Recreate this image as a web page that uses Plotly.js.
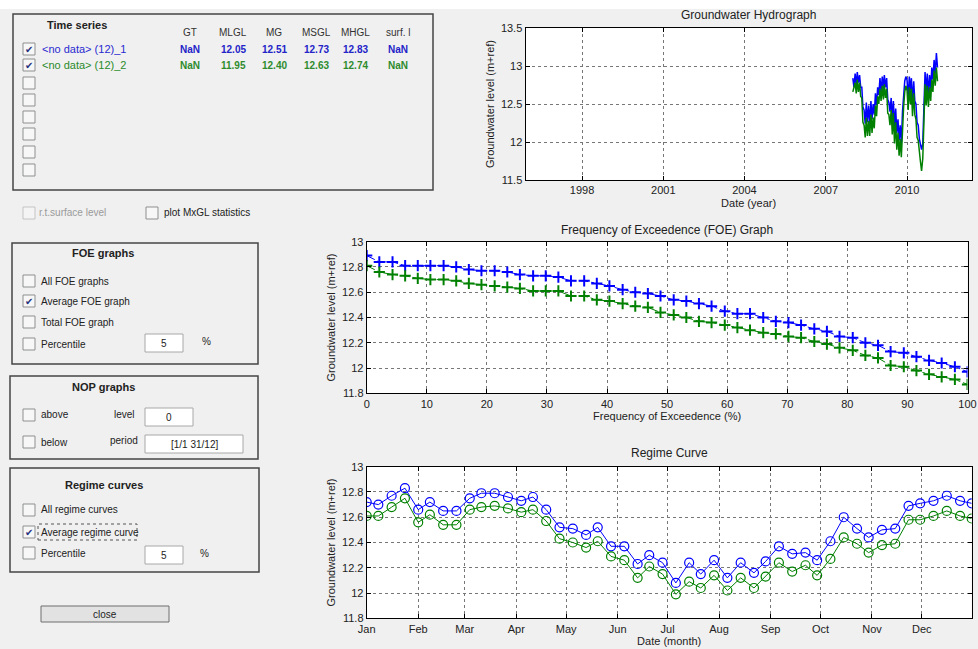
<!DOCTYPE html>
<html>
<head>
<meta charset="utf-8">
<script src="https://cdn.plot.ly/plotly-3.0.1.min.js"></script>
<style>html,body{margin:0;padding:0;background:#f0f0f0;}#chart{width:978px;height:649px;}</style>
</head>
<body>
<div id="chart"></div>
<script>
// ---------------- DATA ----------------
var hydroDates = [
 '2008-01-01','2008-01-16','2008-02-01','2008-02-16','2008-03-01','2008-03-16','2008-04-01','2008-04-16',
 '2008-05-01','2008-05-16','2008-06-01','2008-06-16','2008-07-01','2008-07-16','2008-08-01','2008-08-16',
 '2008-09-01','2008-09-16','2008-10-01','2008-10-16','2008-11-01','2008-11-16','2008-12-01','2008-12-16',
 '2009-01-01','2009-01-16','2009-02-01','2009-02-16','2009-03-01','2009-03-16','2009-04-01','2009-04-16',
 '2009-05-01','2009-05-16','2009-06-01','2009-06-16','2009-07-01','2009-07-16','2009-08-01','2009-08-16',
 '2009-09-01','2009-09-16','2009-10-01','2009-10-16','2009-11-01','2009-11-16','2009-12-01','2009-12-16',
 '2010-01-01','2010-01-16','2010-02-01','2010-02-16','2010-03-01','2010-03-16','2010-04-01','2010-04-16',
 '2010-05-01','2010-05-16','2010-06-01','2010-06-16','2010-07-01','2010-07-16','2010-08-01','2010-08-16',
 '2010-09-01','2010-09-16','2010-10-01','2010-10-16','2010-11-01','2010-11-16','2010-12-01','2010-12-16',
 '2011-01-01','2011-01-16','2011-02-01','2011-02-16'];
var hydroBlue = [
 12.84,12.72,12.90,12.74,12.92,12.78,12.88,12.72,
 12.72,12.46,12.42,12.24,12.52,12.26,12.48,12.24,
 12.54,12.30,12.50,12.36,12.64,12.48,12.72,12.62,
 12.84,12.66,12.86,12.70,12.88,12.72,12.84,12.56,
 12.52,12.40,12.58,12.30,12.54,12.20,12.44,12.12,
 12.30,12.02,12.22,11.98,12.40,12.62,12.80,12.86,
 12.82,12.58,12.86,12.66,12.84,12.52,12.80,12.54,
 12.50,12.26,12.22,12.04,11.98,11.90,11.98,12.42,
 12.92,12.66,12.90,12.62,12.88,12.70,12.98,12.82,
 13.08,12.90,13.17,12.98];
var hydroGreen = [
 12.66,12.72,12.78,12.64,12.82,12.66,12.78,12.60,
 12.58,12.26,12.22,12.06,12.32,12.08,12.28,12.08,
 12.36,12.12,12.32,12.18,12.48,12.34,12.60,12.50,
 12.70,12.54,12.74,12.56,12.76,12.58,12.70,12.38,
 12.36,12.22,12.42,12.10,12.38,11.98,12.26,11.90,
 12.12,11.82,12.04,11.80,12.20,12.46,12.66,12.74,
 12.68,12.42,12.72,12.50,12.70,12.34,12.64,12.36,
 12.30,12.06,12.02,11.84,11.74,11.62,11.78,12.24,
 12.76,12.48,12.74,12.46,12.72,12.54,12.82,12.66,
 12.94,12.74,12.98,12.80];
var yearTicks = ['1998-01-01','2001-01-01','2004-01-01','2007-01-01','2010-01-01'];

var foeFreq = [0,2.1,4.3,6.4,8.5,10.6,12.8,14.9,17.0,19.1,21.3,23.4,25.5,27.7,29.8,31.9,
 34.0,36.2,38.3,40.4,42.6,44.7,46.8,48.9,51.1,53.2,55.3,57.4,59.6,61.7,63.8,66.0,
 68.1,70.2,72.3,74.5,76.6,78.7,80.9,83.0,85.1,87.2,89.4,91.5,93.6,95.7,97.9,100];
var foeBlue = [12.89,12.84,12.84,12.81,12.81,12.81,12.81,12.80,12.78,12.77,12.77,12.76,12.74,12.73,12.73,12.72,
 12.69,12.69,12.67,12.65,12.62,12.60,12.59,12.57,12.54,12.53,12.51,12.49,12.45,12.43,12.43,12.40,
 12.37,12.36,12.34,12.31,12.29,12.25,12.24,12.20,12.18,12.13,12.12,12.09,12.06,12.04,12.01,11.97];
var foeGreen = [12.81,12.76,12.74,12.73,12.71,12.70,12.70,12.69,12.67,12.66,12.65,12.64,12.63,12.61,12.61,12.61,
 12.57,12.57,12.54,12.53,12.51,12.49,12.48,12.44,12.42,12.40,12.37,12.36,12.34,12.32,12.30,12.28,
 12.27,12.25,12.24,12.21,12.19,12.16,12.14,12.10,12.08,12.02,12.01,11.98,11.95,11.93,11.91,11.87];
var foeTicks = [0,10,20,30,40,50,60,70,80,90,100];

var regimeDates = ['2001-01-01','2001-01-08','2001-01-16','2001-01-24','2001-02-01','2001-02-08','2001-02-16','2001-02-24',
 '2001-03-04','2001-03-11','2001-03-19','2001-03-27','2001-04-04','2001-04-11','2001-04-19','2001-04-27',
 '2001-05-05','2001-05-13','2001-05-20','2001-05-28','2001-06-05','2001-06-13','2001-06-20','2001-06-28',
 '2001-07-06','2001-07-14','2001-07-21','2001-07-29','2001-08-06','2001-08-14','2001-08-22','2001-08-29',
 '2001-09-06','2001-09-14','2001-09-22','2001-09-29','2001-10-07','2001-10-15','2001-10-23','2001-10-30',
 '2001-11-07','2001-11-15','2001-11-23','2001-11-30','2001-12-08','2001-12-16','2001-12-24','2001-12-31'];
var regimeBlue = [12.72,12.70,12.77,12.83,12.66,12.72,12.65,12.65,12.75,12.79,12.79,12.76,12.73,12.76,12.66,12.52,
 12.51,12.46,12.52,12.37,12.37,12.23,12.30,12.24,12.08,12.24,12.15,12.26,12.12,12.24,12.16,12.25,
 12.37,12.31,12.32,12.26,12.41,12.60,12.51,12.44,12.50,12.51,12.69,12.71,12.73,12.77,12.73,12.71];
var regimeGreen = [12.61,12.61,12.68,12.75,12.56,12.62,12.54,12.54,12.66,12.68,12.69,12.67,12.64,12.66,12.57,12.43,
 12.40,12.36,12.41,12.29,12.26,12.12,12.21,12.15,11.99,12.09,12.04,12.14,12.02,12.12,12.04,12.13,
 12.24,12.17,12.22,12.14,12.27,12.44,12.39,12.32,12.38,12.39,12.58,12.58,12.61,12.65,12.61,12.59];
var monthTicks = ['2001-01-01','2001-02-01','2001-03-01','2001-04-01','2001-05-01','2001-06-01',
 '2001-07-01','2001-08-01','2001-09-01','2001-10-01','2001-11-01','2001-12-01'];
var monthLabels = ['Jan','Feb','Mar','Apr','May','Jun','Jul','Aug','Sep','Oct','Nov','Dec'];

var statHeaders = ['GT','MLGL','MG','MSGL','MHGL','surf. l'];
var seriesNames = ['<no data> (12)_1','<no data> (12)_2'];
var series1Stats = ['NaN','12.05','12.51','12.73','12.83','NaN'];
var series2Stats = ['NaN','11.95','12.40','12.63','12.74','NaN'];

// ---------------- LAYOUT HELPERS ----------------
var W = 978, H = 649;
var BLUE = 'rgb(0,0,255)', GREEN = 'rgb(0,128,0)';
var FONT = 'Liberation Sans, Arial, sans-serif';
function P(x){return x/W;}
function Q(y){return 1 - y/H;}
var shapes = [], ann = [];
function rect(x0,y0,x1,y1,fill,line,lw,dash){
  shapes.push({type:'rect',xref:'paper',yref:'paper',x0:P(x0),x1:P(x1),y0:Q(y1),y1:Q(y0),
    fillcolor:fill,line:{color:line,width:lw===undefined?1:lw,dash:dash||'solid'},layer:'below'});
}
function txt(x,y,t,o){
  o=o||{};
  ann.push({xref:'paper',yref:'paper',x:P(x),y:Q(y),text:t,showarrow:false,
    xanchor:o.anchor||'left',yanchor:'middle',
    font:{family:FONT,size:o.size||11,color:o.color||'#222'}});
}
function esc(s){return s.replace(/</g,'&lt;').replace(/>/g,'&gt;');}
function checkbox(cx,cy,checked,disabled){
  rect(cx-6,cy-6,cx+6,cy+6,disabled?'#f4f4f4':'#f7f7f7',disabled?'#c4c4c4':'#8e8f8f',1);
  if(checked) txt(cx,cy,'✔',{anchor:'center',size:10,color:'#25337e'});
}
// white strip at the top
rect(0,0,978,9,'#ffffff','#ffffff',0);

// Time series panel
rect(13,14,433,190,'rgba(0,0,0,0)','#444',1.5);
txt(77,25,'<b>Time series</b>',{anchor:'center'});
var colX = [190,233,274,316,355,398];
statHeaders.forEach(function(h,i){ txt(colX[i],32,h,{anchor:'center',size:10,color:'#333'}); });
var rowsY = [49,65,83,100,117,134,152,170];
rowsY.forEach(function(y,i){ checkbox(29,y,i<2,false); });
txt(40,49,esc(seriesNames[0]),{color:'#2a2ad0'});
txt(40,65,esc(seriesNames[1]),{color:'#2a8a2a'});
series1Stats.forEach(function(v,i){ txt(colX[i],49,'<b>'+v+'</b>',{anchor:'center',size:10,color:'#2323c8'}); });
series2Stats.forEach(function(v,i){ txt(colX[i],65,'<b>'+v+'</b>',{anchor:'center',size:10,color:'#2e8b2e'}); });

checkbox(29,213,false,true);
txt(37,213,'r.t.surface level',{size:10,color:'#9a9a9a'});
checkbox(152,213,false,false);
txt(162,213,'plot MxGL statistics',{size:10,color:'#222'});

// FOE graphs panel
rect(12,243,258,364,'rgba(0,0,0,0)','#444',1.5);
txt(103,253,'<b>FOE graphs</b>',{anchor:'center'});
[['All FOE graphs',281,false],['Average FOE graph',301,true],['Total FOE graph',322,false],['Percentile',344,false]]
 .forEach(function(r){ checkbox(29,r[1],r[2],false); txt(39,r[1],r[0],{size:10}); });
rect(145,334,183,352,'#ffffff','#a8a8a8',1);
txt(164,343,'5',{anchor:'center',size:10});
txt(200,341,'%',{size:10});

// NOP graphs panel
rect(10,376,258,459,'rgba(0,0,0,0)','#444',1.5);
txt(103,387,'<b>NOP graphs</b>',{anchor:'center'});
checkbox(29,415,false,false); txt(39,415,'above',{size:10});
checkbox(29,442,false,false); txt(39,442,'below',{size:10});
txt(112,414,'level',{size:10});
txt(108,440,'period',{size:10});
rect(145,408,193,426,'#ffffff','#a8a8a8',1);
txt(169,417,'0',{anchor:'center',size:10});
rect(145,435,243,453,'#ffffff','#a8a8a8',1);
txt(194,444,'[1/1 31/12]',{anchor:'center',size:10});

// Regime curves panel
rect(10,468,259,572,'rgba(0,0,0,0)','#444',1.5);
txt(104,485,'<b>Regime curves</b>',{anchor:'center'});
[['All regime curves',510,false],['Average regime curve',532,true],['Percentile',553,false]]
 .forEach(function(r){ checkbox(29,r[1],r[2],false); txt(39,r[1],r[0],{size:10}); });
rect(38,524,137,540,'rgba(0,0,0,0)','#555',1,'dot');
rect(145,546,183,564,'#ffffff','#a8a8a8',1);
txt(164,555,'5',{anchor:'center',size:10});
txt(198,553,'%',{size:10});

// close button
rect(41,606,169,622,'#e2e2e2','#6e6e6e',1);
txt(105,614,'close',{anchor:'center',size:10});

// chart titles
txt(748,15,'Groundwater Hydrograph',{anchor:'center',size:12});
txt(667,230,'Frequency of Exceedence (FOE) Graph',{anchor:'center',size:12});
txt(669,453,'Regime Curve',{anchor:'center',size:12});

// ---------------- AXES ----------------
function axisBase(extra){
  var a = {showline:true,linecolor:'#000',linewidth:1,mirror:'ticks',ticks:'inside',ticklen:4,
    tickcolor:'#000',showgrid:true,gridcolor:'#777',griddash:'dot',gridwidth:1,zeroline:false,
    tickfont:{family:FONT,size:11,color:'#222'},fixedrange:true,ticklabeloverflow:'allow'};
  for(var k in extra) a[k]=extra[k];
  return a;
}
var ytitle = {text:'Groundwater level (m+ref)',font:{family:FONT,size:11,color:'#222'},standoff:4};

var layout = {
  width:W,height:H,autosize:false,showlegend:false,
  margin:{l:0,r:0,t:0,b:0},
  paper_bgcolor:'#f0f0f0',plot_bgcolor:'#ffffff',
  font:{family:FONT,size:11,color:'#222'},
  xaxis:axisBase({domain:[P(525.5),P(971.7)],anchor:'y',type:'date',
    range:['1995-12-01','2012-05-22'],tickvals:yearTicks,tickformat:'%Y',
    title:{text:'Date (year)',font:{family:FONT,size:11,color:'#222'},standoff:4}}),
  yaxis:axisBase({domain:[Q(180),Q(28)],anchor:'x',range:[11.5,13.5],dtick:0.5,tick0:11.5,
    title:ytitle}),
  xaxis2:axisBase({domain:[P(366.7),P(967.5)],anchor:'y2',range:[-0.0001,100.0001],tickvals:foeTicks,
    title:{text:'Frequency of Exceedence (%)',font:{family:FONT,size:11,color:'#222'},standoff:3}}),
  yaxis2:axisBase({domain:[Q(393.3),Q(241.7)],anchor:'x2',range:[11.8,13],dtick:0.2,tick0:11.8,
    title:ytitle}),
  xaxis3:axisBase({domain:[P(366.7),P(971.7)],anchor:'y3',type:'date',
    range:['2001-01-01','2001-12-31'],tickvals:monthTicks,ticktext:monthLabels,
    title:{text:'Date (month)',font:{family:FONT,size:11,color:'#222'},standoff:3}}),
  yaxis3:axisBase({domain:[Q(618.3),Q(466.7)],anchor:'x3',range:[11.8,13],dtick:0.2,tick0:11.8,
    title:ytitle}),
  shapes:shapes,annotations:ann
};

var traces = [
  {x:hydroDates,y:hydroBlue,type:'scatter',mode:'lines',line:{color:BLUE,width:1.5},xaxis:'x',yaxis:'y',name:seriesNames[0]},
  {x:hydroDates,y:hydroGreen,type:'scatter',mode:'lines',line:{color:GREEN,width:1.5},xaxis:'x',yaxis:'y',name:seriesNames[1]},
  {x:foeFreq,y:foeBlue,type:'scatter',mode:'lines+markers',line:{color:BLUE,width:1,dash:'dashdot'},
   marker:{symbol:'cross-thin-open',size:8,line:{color:BLUE,width:2}},xaxis:'x2',yaxis:'y2',name:seriesNames[0]},
  {x:foeFreq,y:foeGreen,type:'scatter',mode:'lines+markers',line:{color:GREEN,width:1,dash:'dashdot'},
   marker:{symbol:'cross-thin-open',size:8,line:{color:GREEN,width:2}},xaxis:'x2',yaxis:'y2',name:seriesNames[1]},
  {x:regimeDates,y:regimeBlue,type:'scatter',mode:'lines+markers',line:{color:BLUE,width:1},
   marker:{symbol:'circle-open',size:9,line:{color:BLUE,width:1.2}},xaxis:'x3',yaxis:'y3',name:seriesNames[0]},
  {x:regimeDates,y:regimeGreen,type:'scatter',mode:'lines+markers',line:{color:GREEN,width:1},
   marker:{symbol:'circle-open',size:9,line:{color:GREEN,width:1.2}},xaxis:'x3',yaxis:'y3',name:seriesNames[1]}
];

Plotly.newPlot('chart',traces,layout,{displayModeBar:false,staticPlot:true});
</script>
</body>
</html>
